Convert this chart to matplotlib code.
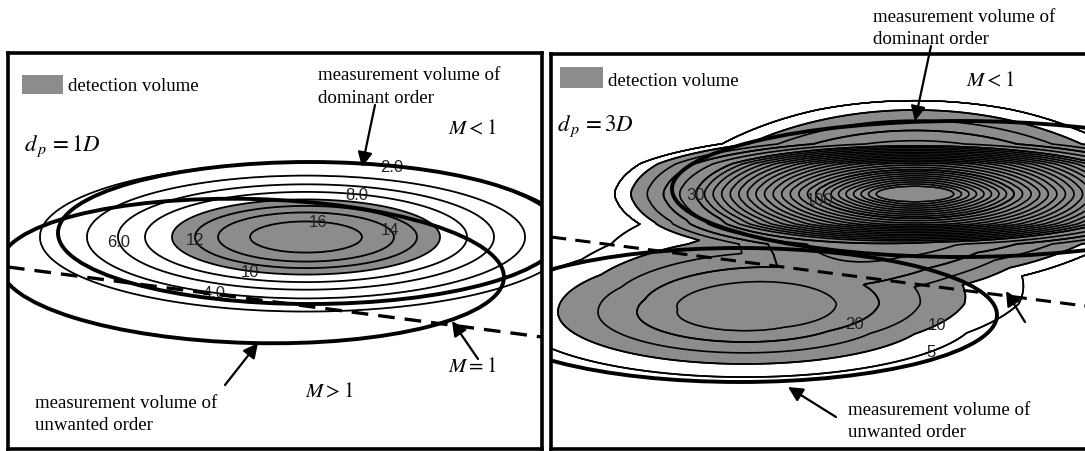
import numpy as np
import matplotlib.pyplot as plt
from matplotlib.patches import Ellipse, Rectangle

plt.rcParams['mathtext.fontset'] = 'stix'
SERIF = 'Liberation Serif'
SANS = 'Liberation Sans'
GREY = '#8c8c8c'
W, H = 1085, 452

# ---- left panel (d_p = 1D), picture read in pixels ----
lev1 = [2, 4, 6, 8, 10, 12, 14, 16]
halfw1 = [266, 219, 188, 161, 134, 111, 88, 56]      # half width of each contour
lab1 = ['2.0', '4.0', '6.0', '8.0', '10', '12', '14', '16']
labpos1 = [(392, 166), (213, 300), (118, 243), (357, 193),
           (250, 274), (195, 241), (392, 229), (318, 223)]
centre1 = (306, 238)
aspect1 = 0.28
dom1 = (310, 234, 252, 71, 0)        # cx, cy, a, b, angle
unw1 = (252, 272, 252, 72, 1.5)
m1_x1 = [8, 542]
m1_y1 = [268, 338]

# ---- right panel (d_p = 3D) ----
up_centre = (915, 195)
up_r = [0, 39, 99, 219, 284, 300, 420]
up_val = [145, 140, 100, 30, 10, 5, 0]
up_dy = [0, 8, 30, 50, 84, 110, 160]
up_h = [0, 39, 120, 230, 284, 330, 480]
lo_centre = (745, 313)
lo_aspect_top, lo_aspect_bot = 3.2, 3.6
lo_r = [0, 68, 108, 147, 187, 234, 300]
lo_val = [28, 25, 20, 15, 10, 5, 0]
lev2 = list(range(5, 145, 5))
lab2 = {5: '5', 10: '10', 20: '20', 30: '30', 100: '100'}
labpos2 = [(705, 195), (822, 197), (850, 313), (932, 316), (933, 356)]
dom2 = (960, 190, 288, 68, 0)
unw2 = (740, 316, 257, 67, 0)
m1_x2 = [551, 1085]
m1_y2 = [238, 307]

fig = plt.figure(figsize=(10.85, 4.52), dpi=100)


def panel(x0, x1, y0, y1):
    ax = fig.add_axes([x0 / W, 1 - y1 / H, (x1 - x0) / W, (y1 - y0) / H])
    ax.set_xlim(x0, x1)
    ax.set_ylim(y1, y0)
    ax.set_xticks([])
    ax.set_yticks([])
    for s in ax.spines.values():
        s.set_linewidth(2.6)
    return ax


def label_text(ax, x, y, s, size=13.6):
    ax.text(x, y, s, family=SERIF, fontsize=size, va='center', ha='left')


def arrow(ax, tail, head):
    ax.annotate('', xy=head, xytext=tail,
                arrowprops=dict(arrowstyle='-|>', color='k', lw=1.6,
                                mutation_scale=22, shrinkA=0, shrinkB=0))


def ring(ax, e, lw=2.8):
    ax.add_patch(Ellipse((e[0], e[1]), 2 * e[2], 2 * e[3], angle=e[4],
                         fill=False, lw=lw, ec='k', zorder=5))


def flat_labels(texts):
    for t in texts:
        t.set_rotation(0)
        t.set_family(SANS)


# left panel
ax1 = panel(8, 542, 54, 450)
X, Y = np.meshgrid(np.arange(8, 543, 1.0), np.arange(54, 451, 1.0))
r = np.sqrt((X - centre1[0]) ** 2 + ((Y - centre1[1]) / aspect1) ** 2)
F1 = np.interp(r, [0] + halfw1[::-1] + [330], [18] + lev1[::-1] + [0])
ax1.contourf(X, Y, F1, levels=[10, 100], colors=[GREY])
cs1 = ax1.contour(X, Y, F1, levels=lev1, colors='k', linewidths=1.3)
flat_labels(ax1.clabel(cs1, inline=False, manual=labpos1,
                       fmt=dict(zip(lev1, lab1)), fontsize=12,
                       colors='#222222'))
ring(ax1, dom1)
ring(ax1, unw1)
ax1.plot(m1_x1, m1_y1, color='k', ls='--', lw=2.4, dashes=(5, 3), zorder=6)

ax1.add_patch(Rectangle((22, 76), 41, 19, fc=GREY, ec='none'))
label_text(ax1, 68, 87, 'detection volume')
label_text(ax1, 24, 146, r'$d_{\,p}\,=1D$', 16.5)
label_text(ax1, 318, 76, 'measurement volume of')
label_text(ax1, 318, 99, 'dominant order')
arrow(ax1, (375, 106), (362, 168))
label_text(ax1, 448, 130, r'$M<1$', 15)
label_text(ax1, 448, 368, r'$M=1$', 15)
arrow(ax1, (478, 360), (452, 322))
label_text(ax1, 305, 393, r'$M>1$', 15)
label_text(ax1, 35, 404, 'measurement volume of')
label_text(ax1, 35, 426, 'unwanted order')
arrow(ax1, (225, 386), (258, 344))

# right panel
ax2 = panel(551, 1085, 55, 450)
ax2.spines['right'].set_visible(False)
X, Y = np.meshgrid(np.arange(551, 1086, 1.0), np.arange(55, 451, 1.0))
hy = np.interp(np.abs(Y - up_centre[1]), up_dy, up_h)
ru = np.sqrt((X - up_centre[0]) ** 2 + hy ** 2)
dy = Y - lo_centre[1]
k = np.where(dy < 0, lo_aspect_top, lo_aspect_bot)
rl = np.sqrt((X - lo_centre[0]) ** 2 + (k * dy) ** 2)
F2 = np.interp(ru, up_r, up_val) + np.interp(rl, lo_r, lo_val)
ax2.contourf(X, Y, F2, levels=[10, 1000], colors=[GREY])
ax2.contour(X, Y, F2, levels=lev2, colors='k', linewidths=1.2)
cs2 = ax2.contour(X, Y, F2, levels=sorted(lab2), colors='k', linewidths=1.2)
flat_labels(ax2.clabel(cs2, inline=False, manual=labpos2, fmt=lab2,
                       fontsize=12, colors='#222222'))
ring(ax2, dom2)
ring(ax2, unw2)
ax2.plot(m1_x2, m1_y2, color='k', ls='--', lw=2.2, dashes=(5, 3), zorder=6)

ax2.add_patch(Rectangle((560, 68), 43, 21, fc=GREY, ec='none'))
label_text(ax2, 608, 81, 'detection volume')
label_text(ax2, 557, 126, r'$d_{\,p}\,=3D$', 16.5)
label_text(ax2, 966, 82, r'$M<1$', 15)
label_text(ax2, 873, 17, 'measurement volume of')
label_text(ax2, 873, 39, 'dominant order')
arrow(ax2, (931, 47), (915, 122))
arrow(ax2, (1025, 323), (1006, 292))
label_text(ax2, 848, 411, 'measurement volume of')
label_text(ax2, 848, 433, 'unwanted order')
arrow(ax2, (836, 418), (788, 388))

fig.savefig('out.png', dpi=100)
